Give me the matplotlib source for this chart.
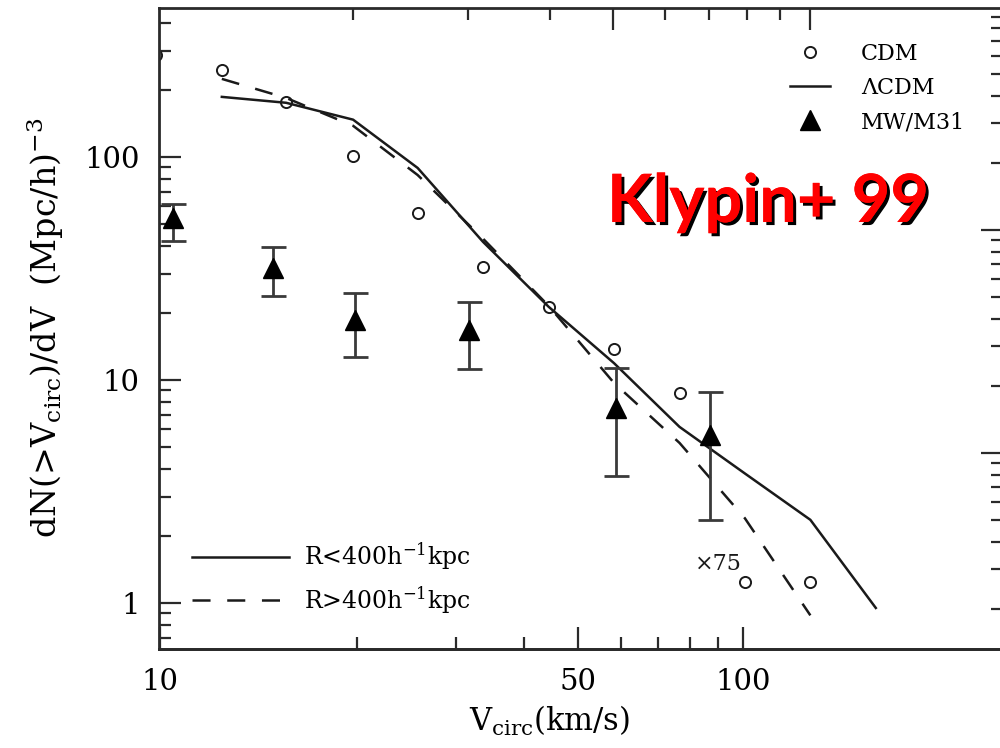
import numpy as np
import matplotlib
matplotlib.use("Agg")
import matplotlib.pyplot as plt
from matplotlib.lines import Line2D
from matplotlib.ticker import FixedLocator, NullFormatter, FixedFormatter, LogLocator
import matplotlib.patheffects as pe

# ---- data -------------------------------------------------------------
# CDM subhalo velocity function (open circles)
cdm_v = [10.0, 12.6, 15.8, 20.0, 25.1, 31.6, 39.8, 50.1, 63.1, 79.4, 100.0]
cdm_n = [287, 245, 176, 101, 56.1, 32.1, 21.3, 13.8, 8.74, 1.24, 1.24]

# LCDM curves: inside and outside 400 kpc/h
lcdm_v = [12.6, 15.8, 20.0, 25.1, 31.6, 39.8, 50.1, 63.1, 79.4, 100.0, 125.9]
lcdm_in = [186, 175, 147, 89.3, 41.6, 21.3, 11.9, 6.16, 3.81, 2.36, 0.95]
lcdm_out = [224, 184, 138, 83.0, 43.0, 21.5, 9.7, 5.22, 2.40, 0.88]

# Milky Way / M31 satellites with error bars
mw_v = [10.6, 15.1, 20.1, 30.1, 50.4, 70.3]
mw_n = [53.3, 31.8, 18.6, 16.8, 7.49, 5.67]
mw_lo = [42.1, 23.9, 12.7, 11.2, 3.72, 2.36]
mw_hi = [61.5, 39.4, 24.6, 22.3, 11.3, 8.81]

# bottom axis labels and where they sit along the velocity axis
bottom_tick_values = [10, 20, 30, 40, 50, 60, 70, 80, 90, 100]
bottom_tick_at = [10.14, 20.29, 28.75, 36.53, 44.19, 51.41, 58.56, 65.55, 72.34, 78.97]
bottom_major = [10, 50, 100]
bottom_major_labels = ["10", "50", "100"]

# ---- style ------------------------------------------------------------
plt.rcParams["font.family"] = "DejaVu Serif"
plt.rcParams["mathtext.fontset"] = "dejavuserif"
plt.rcParams["lines.scale_dashes"] = False

ink = "#1a1a1a"
axis_ink = "#2a2a2a"

fig = plt.figure(figsize=(10, 7.48), dpi=100)
ax = fig.add_axes([0.159, 0.1324, 0.844, 0.857])
ax.set_xscale("log")
ax.set_yscale("log")
ax.set_xlim(10.1, 197)
ax.set_ylim(0.622, 466)

for s in ax.spines.values():
    s.set_linewidth(2.0)
    s.set_color(axis_ink)

# ---- curves and points -------------------------------------------------
ax.plot(lcdm_v, lcdm_in, "-", color=ink, lw=1.8)
ax.plot(lcdm_v[:len(lcdm_out)], lcdm_out, color=ink, lw=1.8, dashes=(13, 12))
ax.plot(cdm_v, cdm_n, "o", mfc="none", mec=ink, ms=8, mew=1.4)

mw_n_a = np.array(mw_n)
yerr = [mw_n_a - np.array(mw_lo), np.array(mw_hi) - mw_n_a]
ax.errorbar(mw_v, mw_n, yerr=yerr, fmt="^", color="black", ms=14,
            ecolor="#3a3a3a", elinewidth=2.0, capsize=9, capthick=2.0)

# ---- ticks ------------------------------------------------------------
ax.xaxis.set_ticks_position("top")
ax.xaxis.set_major_locator(FixedLocator([10, 50, 100]))
ax.xaxis.set_minor_locator(FixedLocator([20, 30, 40, 60, 70, 80, 90]))
ax.xaxis.set_minor_formatter(NullFormatter())
ax.tick_params(axis="x", which="both", labeltop=False, labelbottom=False)

ax.yaxis.set_ticks_position("left")
ax.yaxis.set_major_locator(FixedLocator([1, 10, 100]))
ax.yaxis.set_major_formatter(FixedFormatter(["1", "10", "100"]))
ax.yaxis.set_minor_locator(LogLocator(base=10, subs=np.arange(2, 10)))
ax.yaxis.set_minor_formatter(NullFormatter())

ax.tick_params(which="major", direction="in", length=16, width=1.6, color=axis_ink)
ax.tick_params(which="minor", direction="in", length=8.5, width=1.6, color=axis_ink)
ax.tick_params(axis="y", which="major", labelsize=21, pad=14)


def _pw(x, xp, fp):
    x = np.asarray(x, dtype=float)
    y = np.interp(x, xp, fp)
    lo_s = (fp[1] - fp[0]) / (xp[1] - xp[0])
    hi_s = (fp[-1] - fp[-2]) / (xp[-1] - xp[-2])
    y = np.where(x < xp[0], fp[0] + (x - xp[0]) * lo_s, y)
    y = np.where(x > xp[-1], fp[-1] + (x - xp[-1]) * hi_s, y)
    return y


_la = np.log10(bottom_tick_at)
_lv = np.log10(bottom_tick_values)


def to_bottom(x):
    with np.errstate(divide="ignore", invalid="ignore"):
        lx = np.log10(np.clip(np.asarray(x, dtype=float), 1e-300, None))
    return 10 ** _pw(lx, _la, _lv)


def from_bottom(x):
    with np.errstate(divide="ignore", invalid="ignore"):
        lx = np.log10(np.clip(np.asarray(x, dtype=float), 1e-300, None))
    return 10 ** _pw(lx, _lv, _la)


sec = ax.secondary_xaxis("bottom", functions=(to_bottom, from_bottom))
sec.set_xticks(bottom_major, labels=bottom_major_labels)
sec.xaxis.set_minor_locator(FixedLocator([v for v in bottom_tick_values if v not in bottom_major]))
sec.xaxis.set_minor_formatter(NullFormatter())
sec.tick_params(which="major", direction="in", length=16, width=1.6, color=axis_ink,
                labelsize=21, pad=14)
sec.tick_params(which="minor", direction="in", length=8.5, width=1.6, color=axis_ink)
sec.spines["bottom"].set_linewidth(2.0)
sec.spines["bottom"].set_color(axis_ink)

K = 0.2123
secy = ax.secondary_yaxis("right", functions=(lambda y: y * K, lambda y: y / K))
secy.yaxis.set_major_locator(LogLocator(base=10))
secy.yaxis.set_minor_locator(LogLocator(base=10, subs=np.arange(2, 10)))
secy.yaxis.set_minor_formatter(NullFormatter())
secy.tick_params(labelright=False)
secy.tick_params(which="major", direction="in", length=16, width=1.6, color=axis_ink)
secy.tick_params(which="minor", direction="in", length=8.5, width=1.6, color=axis_ink)

# ---- legends ----------------------------------------------------------
h_cdm = Line2D([], [], ls="none", marker="o", mfc="none", mec=ink, ms=8, mew=1.4)
h_lcdm = Line2D([], [], color=ink, lw=1.8)
h_mw = Line2D([], [], ls="none", marker="^", color="black", ms=14)
leg1 = ax.legend([h_cdm, h_lcdm, h_mw], ["CDM", "ΛCDM", "MW/M31"],
                 loc="upper left", bbox_to_anchor=(0.790, 0.943),
                 bbox_transform=fig.transFigure, frameon=False, fontsize=16,
                 handlelength=1.8, handletextpad=1.4, labelspacing=0.55,
                 borderaxespad=0, borderpad=0)
ax.add_artist(leg1)

h_in = Line2D([], [], color=ink, lw=1.8)
h_out = Line2D([], [], color=ink, lw=1.8, dashes=(13, 12))
ax.legend([h_in, h_out], [r"R<400h$^{-1}$kpc", r"R>400h$^{-1}$kpc"],
          loc="upper left", bbox_to_anchor=(0.192, 0.277),
          bbox_transform=fig.transFigure, frameon=False, fontsize=17,
          handlelength=4.1, handletextpad=0.65, labelspacing=0.5,
          borderaxespad=0, borderpad=0)

# ---- annotations ------------------------------------------------------
ax.text(66.7, 1.41, "×75", fontsize=16, ha="left", va="baseline", color=ink)

fig.text(0.607, 0.7032, "Klypin+ 99", color="#ff0000", fontsize=48,
         fontweight="bold", family="Lato", ha="left", va="baseline",
         path_effects=[pe.withSimplePatchShadow(offset=(2.2, -2.2),
                                                shadow_rgbFace="black", alpha=1.0),
                       pe.Normal()])

fig.text(0.550, 0.036, r"V$_{\rm circ}$(km/s)", ha="center", va="center", fontsize=22)
fig.text(0.045, 1 - 328 / 748, r"dN(>V$_{\rm circ}$)/dV  (Mpc/h)$^{-3}$",
         rotation=90, ha="center", va="center", fontsize=24)

fig.savefig("out.png", dpi=100)
